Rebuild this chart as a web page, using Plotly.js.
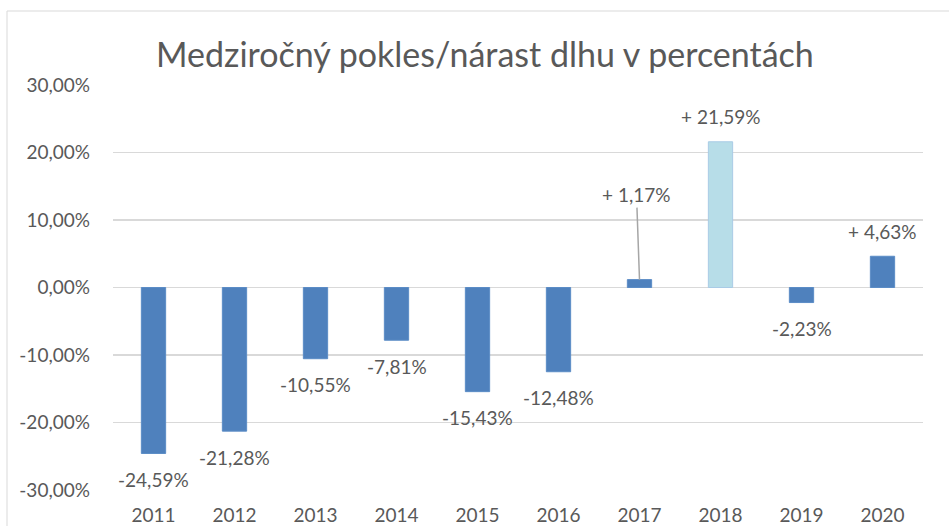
<!DOCTYPE html>
<html>
<head>
<meta charset="utf-8">
<script src="https://cdn.plot.ly/plotly-3.0.1.min.js"></script>
<style>html,body{margin:0;padding:0;background:#fff;}#chart{width:949px;height:526px;}</style>
</head>
<body>
<div id="chart"></div>
<script>
const years = ['2011','2012','2013','2014','2015','2016','2017','2018','2019','2020'];
const changes = [-24.59, -21.28, -10.55, -7.81, -15.43, -12.48, 1.17, 21.59, -2.23, 4.63];
const yTickValues = [-30, -20, -10, 0, 10, 20, 30];
const yTickLabels = ['-30,00%', '-20,00%', '-10,00%', '0,00%', '10,00%', '20,00%', '30,00%'];
const highlightYear = '2018';
const leaderYear = '2017';
const titleText = 'Medziročný pokles/nárast dlhu v percentách';

const FONT = 'Lato, "Open Sans", sans-serif';
const TXT = '#595959';

function fmt(v) {
  const s = Math.abs(v).toFixed(2).replace('.', ',') + '%';
  return v >= 0 ? '+ ' + s : '-' + s;
}

const colors = years.map(y => y === highlightYear ? '#B7DDE8' : '#4F81BD');
const lines = years.map(y => y === highlightYear ? '#A9CBE6' : '#5B8CC6');

const trace = {
  type: 'bar',
  x: years,
  y: changes,
  width: 0.3,
  marker: {color: colors, line: {color: lines, width: 1}},
  hoverinfo: 'skip'
};

const annotations = years.map((yr, i) => {
  const v = changes[i];
  const a = {
    x: i, y: v, xref: 'x', yref: 'y',
    text: fmt(v),
    font: {family: FONT, size: 19, color: TXT},
    showarrow: false,
    yshift: v >= 0 ? 25 : -26
  };
  if (yr === leaderYear) {
    a.showarrow = true;
    a.arrowhead = 0;
    a.arrowwidth = 1.5;
    a.arrowcolor = '#A6A6A6';
    a.standoff = 0;
    a.ax = -3;
    a.ay = -85;
    a.yshift = 0;
  }
  return a;
});

const layout = {
  width: 949, height: 526,
  margin: {l: 113, r: 26, t: 85, b: 36},
  paper_bgcolor: '#ffffff',
  plot_bgcolor: '#ffffff',
  showlegend: false,
  title: {
    text: titleText,
    font: {family: FONT, size: 34, color: TXT},
    xref: 'container', x: 0.511, xanchor: 'center',
    yref: 'container', y: 1 - 55/526, yanchor: 'middle'
  },
  xaxis: {
    type: 'category',
    range: [-0.5, years.length - 0.5],
    showgrid: false, zeroline: false, showline: false,
    ticks: '',
    tickfont: {family: FONT, size: 19, color: TXT},
    ticklabelstandoff: 12
  },
  yaxis: {
    range: [-30, 30],
    tickmode: 'array',
    tickvals: yTickValues,
    ticktext: yTickLabels,
    showgrid: true, gridcolor: '#D9D9D9', gridwidth: 1.5,
    zeroline: true, zerolinecolor: '#D9D9D9', zerolinewidth: 1.5,
    showline: false, ticks: '',
    tickfont: {family: FONT, size: 19, color: TXT},
    ticklabelstandoff: 22
  },
  annotations: annotations,
  shapes: [{
    type: 'rect', xref: 'paper', yref: 'paper',
    x0: (7-113)/810, x1: (980-113)/810,
    y0: (490-560)/405, y1: (490-11)/405,
    line: {color: '#D9D9D9', width: 1}, fillcolor: 'rgba(0,0,0,0)', layer: 'below'
  }]
};

Plotly.newPlot('chart', [trace], layout, {displayModeBar: false, staticPlot: true});
</script>
</body>
</html>
